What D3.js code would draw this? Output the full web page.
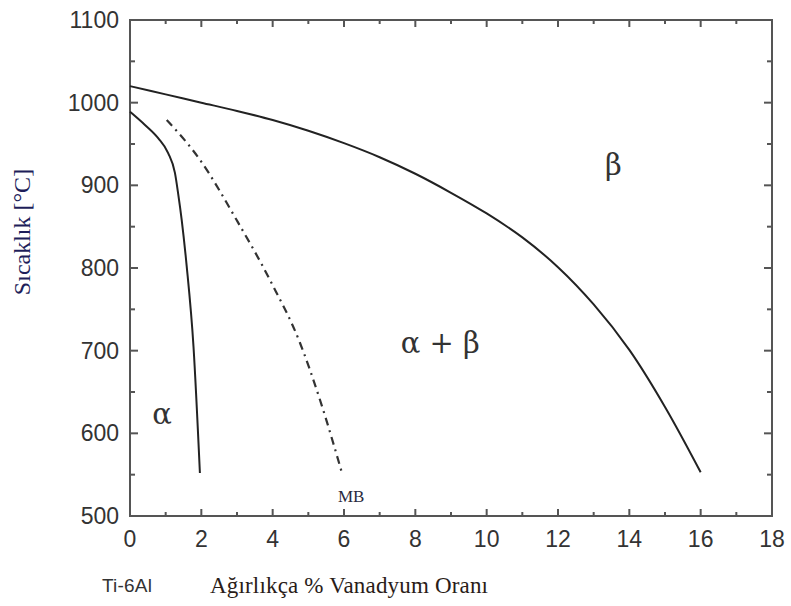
<!DOCTYPE html>
<html><head><meta charset="utf-8">
<script src="https://cdn.jsdelivr.net/npm/d3@7"></script>
<style>body{margin:0;background:#fff}</style>
</head><body>
<script>
// Data
const betaX = [0,1,2,3,4,5,6,7,8,9,10,11,12,13,14,15,16];
const betaT = [1020,1010,1000,990,979,966,951,934,914,891,866,837,801,756,701,632,553];
const alphaBoundary = [[0,989],[0.42,973],[0.79,957],[1.07,939],[1.26,915],[1.35,890],[1.45,858],[1.59,802],[1.78,705],[1.96,552]];
const mbLine = [[1.03,979],[1.96,931],[2.99,858],[3.93,785],[4.77,709],[5.33,640],[5.93,554]];
const xTicks = [0,2,4,6,8,10,12,14,16,18];
const yTicks = [500,600,700,800,900,1000,1100];
const regionLabels = [{t:"β",x:13.55,y:912},{t:"α + β",x:8.7,y:697},{t:"α",x:0.9,y:611}];

const betaTransus = betaX.map((v,i)=>[v,betaT[i]]);
const W=791,H=606;
const svg=d3.select("body").append("svg").attr("width",W).attr("height",H);
const x=d3.scaleLinear().domain([0,18]).range([130,772]);
const y=d3.scaleLinear().domain([500,1100]).range([516,20]);
const axisColor="#555";

const xMinor=d3.range(1,18,2), yMinor=d3.range(550,1100,100);
const gAx=svg.append("g").attr("stroke",axisColor).attr("stroke-width",2);
xTicks.forEach(v=>{
  gAx.append("line").attr("x1",x(v)).attr("x2",x(v)).attr("y1",516).attr("y2",509);
  gAx.append("line").attr("x1",x(v)).attr("x2",x(v)).attr("y1",20).attr("y2",27);
});
xMinor.forEach(v=>{
  gAx.append("line").attr("x1",x(v)).attr("x2",x(v)).attr("y1",516).attr("y2",512);
  gAx.append("line").attr("x1",x(v)).attr("x2",x(v)).attr("y1",20).attr("y2",24);
});
yTicks.forEach(v=>{
  gAx.append("line").attr("x1",130).attr("x2",138).attr("y1",y(v)).attr("y2",y(v));
  gAx.append("line").attr("x1",772).attr("x2",764).attr("y1",y(v)).attr("y2",y(v));
});
yMinor.forEach(v=>{
  gAx.append("line").attr("x1",130).attr("x2",135).attr("y1",y(v)).attr("y2",y(v));
  gAx.append("line").attr("x1",772).attr("x2",767).attr("y1",y(v)).attr("y2",y(v));
});
svg.append("rect").attr("x",130).attr("y",20).attr("width",642).attr("height",496)
  .attr("fill","none").attr("stroke",axisColor).attr("stroke-width",2);

// tick labels
svg.append("g").selectAll("text").data(xTicks).join("text")
  .attr("x",d=>x(d)).attr("y",547).attr("text-anchor","middle")
  .attr("font-family","Liberation Sans, Arial").attr("font-size",23).attr("fill","#333").text(d=>d);
svg.append("g").selectAll("text").data(yTicks).join("text")
  .attr("x",119).attr("y",d=>y(d)+8).attr("text-anchor","end")
  .attr("font-family","Liberation Sans, Arial").attr("font-size",23).attr("fill","#333").text(d=>d);

// curves
const line=d3.line().x(d=>x(d[0])).y(d=>y(d[1])).curve(d3.curveCatmullRom.alpha(0.5));
const lineA=d3.line().x(d=>x(d[0])).y(d=>y(d[1])).curve(d3.curveMonotoneX);
svg.append("path").attr("d",line(betaTransus)).attr("fill","none").attr("stroke","#222").attr("stroke-width",2);
svg.append("path").attr("d",lineA(alphaBoundary)).attr("fill","none").attr("stroke","#222").attr("stroke-width",2);
svg.append("path").attr("d",lineA(mbLine)).attr("fill","none").attr("stroke","#333").attr("stroke-width",2.2)
  .attr("stroke-dasharray","8,5,2,5");

// region labels
svg.append("g").selectAll("text").data(regionLabels).join("text")
  .attr("x",d=>x(d.x)).attr("y",d=>y(d.y)).attr("text-anchor","middle")
  .attr("font-family","DejaVu Serif, serif").attr("font-size",29).attr("fill","#333").text(d=>d.t);
svg.append("text").attr("x",x(6.2)).attr("y",502).attr("text-anchor","middle")
  .attr("font-family","Liberation Serif, Times New Roman").attr("font-size",17).attr("fill","#2a2a40").text("MB");

// axis titles
svg.append("text").attr("transform","translate(30,232) rotate(-90)").attr("text-anchor","middle")
  .attr("font-family","Liberation Serif, Times New Roman").attr("font-size",24).attr("fill","#1e1e5a").text("Sıcaklık  [°C]");
svg.append("text").attr("x",210).attr("y",593).attr("textLength",278)
  .attr("font-family","Liberation Serif, Times New Roman").attr("font-size",23).attr("fill","#2a1c18").text("Ağırlıkça % Vanadyum Oranı");
svg.append("text").attr("x",102).attr("y",592).attr("textLength",50)
  .attr("font-family","Liberation Sans, Arial").attr("font-size",19).attr("fill","#333").text("Ti-6Al");
</script>
</body></html>
